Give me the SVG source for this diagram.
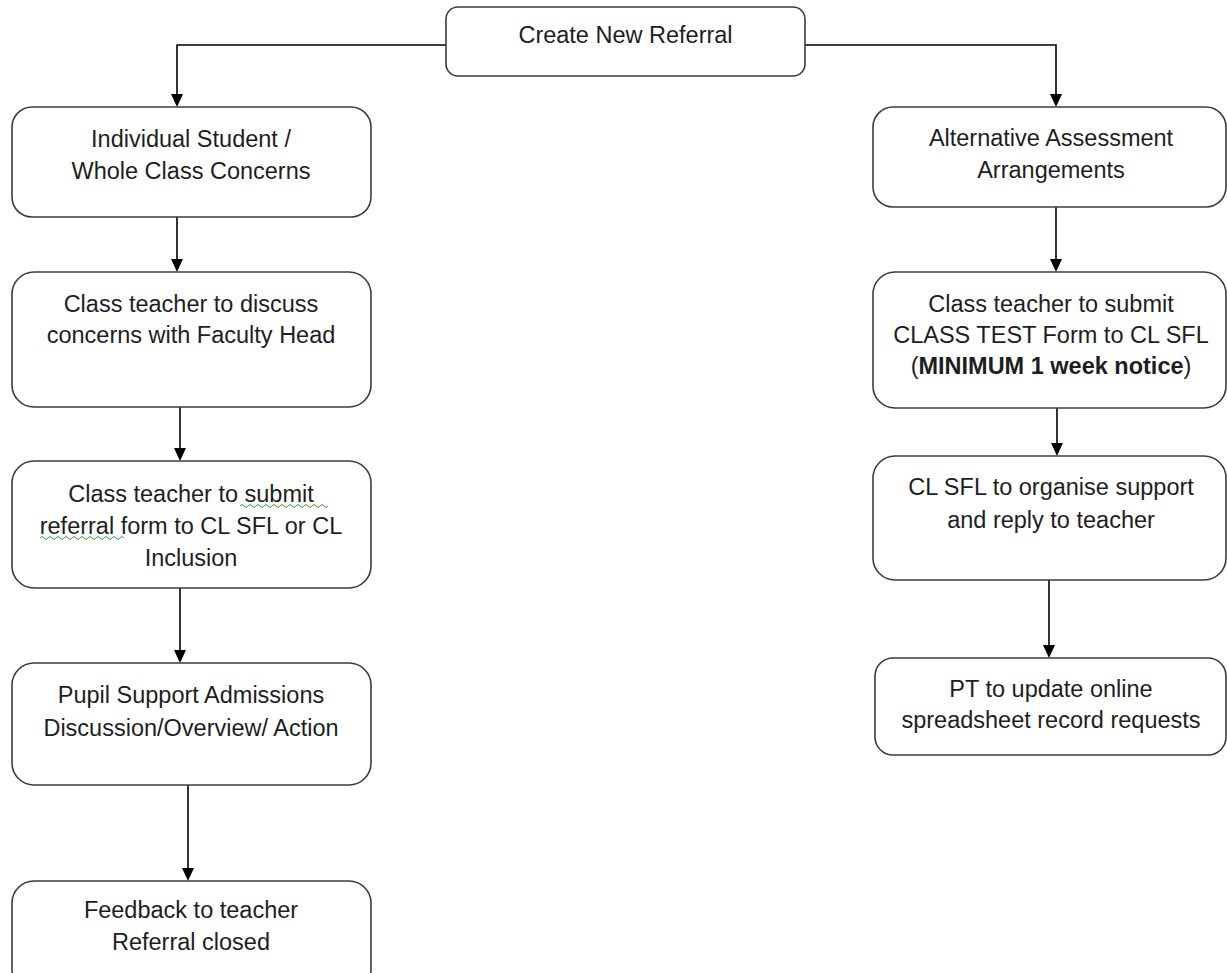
<svg xmlns="http://www.w3.org/2000/svg" width="1227" height="973" viewBox="0 0 1227 973">
<defs>
<style>
.box{fill:#fff;stroke:#3c3c3c;stroke-width:1.6}
.t{font-family:"Liberation Sans",Arial,sans-serif;font-size:23.5px;fill:#1e1e1e;text-anchor:middle}
.b{font-weight:bold}
.c{fill:none;stroke:#000;stroke-width:1.6}
.sq{fill:none;stroke:#3aa63a;stroke-width:1}
</style>
</defs>
<rect width="1227" height="973" fill="#fff"/>
<g id="connectors">
<path class="c" d="M446,45 H177 V94"/>
<polygon points="171,94 183,94 177,107" fill="#000"/>
<path class="c" d="M805,45 H1056 V94"/>
<polygon points="1050,94 1062,94 1056,107" fill="#000"/>
<path class="c" d="M177,217 V259"/>
<polygon points="171,259 183,259 177,272" fill="#000"/>
<path class="c" d="M180,407 V448"/>
<polygon points="174,448 186,448 180,461" fill="#000"/>
<path class="c" d="M180,588 V650"/>
<polygon points="174,650 186,650 180,663" fill="#000"/>
<path class="c" d="M188,785 V868"/>
<polygon points="182,868 194,868 188,881" fill="#000"/>
<path class="c" d="M1056,207 V259"/>
<polygon points="1050,259 1062,259 1056,272" fill="#000"/>
<path class="c" d="M1057,408 V443"/>
<polygon points="1051,443 1063,443 1057,456" fill="#000"/>
<path class="c" d="M1049,580 V645"/>
<polygon points="1043,645 1055,645 1049,658" fill="#000"/>
</g>
<g id="n-create">
<rect class="box" x="446" y="7" width="359" height="69" rx="12"/>
<text class="t" x="625.5" y="43">Create New Referral</text>
</g>
<g id="n-individual">
<rect class="box" x="12" y="107" width="359" height="110" rx="20"/>
<text class="t" x="191" y="147">Individual Student /</text>
<text class="t" x="191" y="179">Whole Class Concerns</text>
</g>
<g id="n-discuss">
<rect class="box" x="12" y="272" width="359" height="135" rx="22"/>
<text class="t" x="191" y="312">Class teacher to discuss</text>
<text class="t" x="191" y="343">concerns with Faculty Head</text>
</g>
<g id="n-submit-referral">
<rect class="box" x="12" y="461" width="359" height="127" rx="22"/>
<text class="t" x="191" y="502">Class teacher to submit</text>
<text class="t" x="191" y="534">referral form to CL SFL or CL</text>
<text class="t" x="191" y="566">Inclusion</text>
<path class="sq" d="M240,506 q2,-3 4,0 t4,0 t4,0 t4,0 t4,0 t4,0 t4,0 t4,0 t4,0 t4,0 t4,0 t4,0 t4,0 t4,0 t4,0 t4,0 t4,0 t4,0 t4,0 t4,0 t4,0 t4,0"/>
<path class="sq" d="M40,538 q2,-3 4,0 t4,0 t4,0 t4,0 t4,0 t4,0 t4,0 t4,0 t4,0 t4,0 t4,0 t4,0 t4,0 t4,0 t4,0 t4,0 t4,0 t4,0 t4,0 t4,0 t4,0"/>
</g>
<g id="n-pupil-support">
<rect class="box" x="12" y="663" width="359" height="122" rx="22"/>
<text class="t" x="191" y="703">Pupil Support Admissions</text>
<text class="t" x="191" y="736">Discussion/Overview/ Action</text>
</g>
<g id="n-feedback">
<rect class="box" x="12" y="881" width="359" height="110" rx="22"/>
<text class="t" x="191" y="918">Feedback to teacher</text>
<text class="t" x="191" y="950">Referral closed</text>
</g>
<g id="n-alternative">
<rect class="box" x="873" y="107" width="353" height="100" rx="20"/>
<text class="t" x="1051" y="146">Alternative Assessment</text>
<text class="t" x="1051" y="178">Arrangements</text>
</g>
<g id="n-class-test">
<rect class="box" x="873" y="272" width="353" height="136" rx="22"/>
<text class="t" x="1051" y="312">Class teacher to submit</text>
<text class="t" x="1051" y="343">CLASS TEST Form to CL SFL</text>
<text class="t" x="1051" y="374">(<tspan class="b">MINIMUM 1 week notice</tspan>)</text>
</g>
<g id="n-organise">
<rect class="box" x="873" y="456" width="353" height="124" rx="22"/>
<text class="t" x="1051" y="495">CL SFL to organise support</text>
<text class="t" x="1051" y="528">and reply to teacher</text>
</g>
<g id="n-pt-update">
<rect class="box" x="875" y="658" width="351" height="97" rx="18"/>
<text class="t" x="1051" y="697">PT to update online</text>
<text class="t" x="1051" y="728">spreadsheet record requests</text>
</g>
</svg>
